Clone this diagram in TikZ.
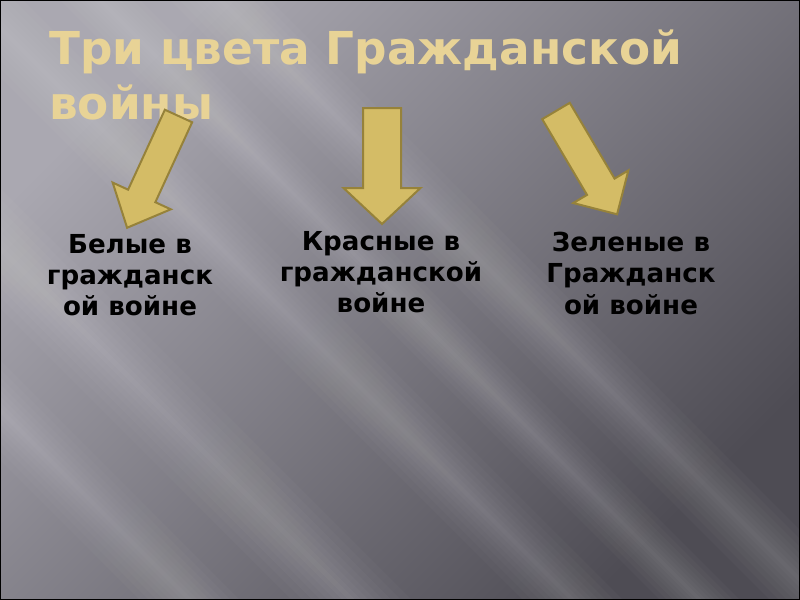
\documentclass[tikz,border=0pt]{standalone}
\usepackage{fontspec}
\setmainfont{DejaVu Sans}
\usetikzlibrary{positioning}

\definecolor{bglight}{RGB}{170,168,177}
\definecolor{bgmid}{RGB}{108,106,114}
\definecolor{bgdark}{RGB}{78,76,84}
\definecolor{titletan}{RGB}{232,211,150}
\definecolor{arrowfill}{RGB}{212,188,102}
\definecolor{arrowline}{RGB}{150,130,58}

\tikzset{
    arrowbox/.style={fill=arrowfill, draw=arrowline, line width=1.5pt, line join=miter},
    streak/.style={white, fill opacity=0.024},
    caption/.style={font=\bfseries\fontsize{19.6}{23.4}\selectfont, align=center, inner sep=0pt, anchor=north},
    pics/bigarrow/.style args={#1/#2/#3/#4}{code={
        \draw[arrowbox] (0,-#2) -- (#1-#4,-#2) -- (#1-#4,-#3) -- (#1,0)
            -- (#1-#4,#3) -- (#1-#4,#2) -- (0,#2) -- cycle;
    }}
}

\begin{document}
\begin{tikzpicture}[x=0.75pt, y=-0.75pt]
    \useasboundingbox (0,0) rectangle (800,600);
    % background
    \shade[top color=bglight, middle color=bgmid, bottom color=bgdark, shading angle=45] (0,0) rectangle (800,600);
    \begin{scope}
        \clip (0,0) rectangle (800,600);
        \foreach \c/\s in {-220/1, -100/0.8, 27/1, 248/1.2, 410/1} {
            \foreach \w in {100, 82, 66, 52, 40, 28, 16, 6} {
                \fill[streak] (-100,-100+\c-\s*\w/2) -- (900,900+\c-\s*\w/2)
                    -- (900,900+\c+\s*\w/2) -- (-100,-100+\c+\s*\w/2) -- cycle;
            }
        }
    \end{scope}
    \draw[black, line width=1.5pt] (0,0) rectangle (800,600);

    % title
    \node[anchor=north west, inner sep=0pt, align=left, text=titletan,
          font=\bfseries\fontsize{34}{41}\selectfont] (title) at (49,30)
          {Три цвета Гражданской\\войны};

    % arrows
    \pic[rotate=-114.7] (wharrow) at (178.5,116) {bigarrow={123/15/32/35}};
    \pic[rotate=-90] (rdarrow) at (382,108) {bigarrow={116/19/38.5/36}};
    \pic[rotate=-59.4] (grarrow) at (556,111) {bigarrow={120/16/32/32}};

    % captions
    \node[caption] (white) at (130,234) {Белые в\\гражданск\\ой войне};
    \node[caption] (red) at (381,231) {Красные в\\гражданской\\войне};
    \node[caption] (green) at (631,232) {Зеленые в\\Гражданск\\ой войне};
\end{tikzpicture}
\end{document}
